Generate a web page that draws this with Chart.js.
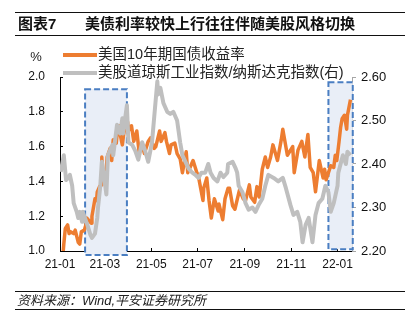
<!DOCTYPE html>
<html lang="zh">
<head>
  <meta charset="UTF-8">
  <title>美债利率与美股风格</title>
  <style>
    body { margin: 0; background: #fff; }
    .wrap {
      position: relative;
      width: 413px;
      height: 326px;
      background: #fff;
      font-family: "Liberation Sans", "Noto Sans CJK SC", sans-serif;
    }
    .wrap canvas { position: absolute; left: 0; top: 0; }
    .bar {
      position: absolute;
      left: 15px;
      width: 390px;
      border-top: 1px solid #111;
      border-bottom: 1px solid #111;
      color: #111;
    }
    .title-bar { top: 12px; height: 22px; font-size: 15px; font-weight: bold; line-height: 22px; }
    .title-bar span { position: absolute; top: 0; }
    .source-bar { top: 291px; height: 17px; font-size: 13px; font-style: italic; line-height: 17px; color: #222; }
    .source-bar span { position: absolute; left: 2px; top: 0; }
  </style>
</head>
<body>
<div class="wrap">
  <canvas id="myChart" width="413" height="326"></canvas>
  <div class="bar title-bar"><span style="left:3px">图表7</span><span style="left:70px">美债利率较快上行往往伴随美股风格切换</span></div>
  <div class="bar source-bar"><span>资料来源：Wind,平安证券研究所</span></div>
</div>

<script src="https://cdn.jsdelivr.net/npm/chart.js/dist/chart.umd.min.js"></script>
<script>
  // US 10Y treasury yield, %
  const yieldDates = [
    '2021-01-04','2021-01-06','2021-01-08','2021-01-11','2021-01-13','2021-01-15','2021-01-19','2021-01-21','2021-01-25','2021-01-27','2021-01-29',
    '2021-02-02','2021-02-04','2021-02-05','2021-02-09','2021-02-11','2021-02-12','2021-02-16','2021-02-18','2021-02-19','2021-02-22','2021-02-24','2021-02-25','2021-02-26',
    '2021-03-02','2021-03-04','2021-03-08','2021-03-10','2021-03-12','2021-03-16','2021-03-18','2021-03-19','2021-03-23','2021-03-24','2021-03-26','2021-03-31',
    '2021-04-01','2021-04-05','2021-04-08','2021-04-12','2021-04-15','2021-04-19','2021-04-22','2021-04-27','2021-04-30',
    '2021-05-05','2021-05-07','2021-05-12','2021-05-14','2021-05-19','2021-05-21','2021-05-25','2021-05-27',
    '2021-06-01','2021-06-04','2021-06-08','2021-06-11','2021-06-16','2021-06-18','2021-06-23','2021-06-25','2021-06-30',
    '2021-07-02','2021-07-08','2021-07-09','2021-07-13','2021-07-16','2021-07-19','2021-07-23','2021-07-28','2021-07-29',
    '2021-08-03','2021-08-06','2021-08-10','2021-08-12','2021-08-16','2021-08-19','2021-08-25','2021-08-30',
    '2021-09-02','2021-09-07','2021-09-09','2021-09-14','2021-09-17','2021-09-20','2021-09-24','2021-09-28',
    '2021-10-01','2021-10-05','2021-10-08','2021-10-14','2021-10-19','2021-10-21','2021-10-27',
    '2021-11-03','2021-11-05','2021-11-10','2021-11-15','2021-11-19','2021-11-23','2021-11-26','2021-11-30',
    '2021-12-03','2021-12-08','2021-12-13','2021-12-15','2021-12-17','2021-12-23','2021-12-27','2021-12-29','2021-12-31',
    '2022-01-03','2022-01-05','2022-01-07','2022-01-10','2022-01-13','2022-01-14','2022-01-18'
  ];
  const yieldValues = [
    0.93, 1.04, 1.13, 1.15, 1.10, 1.11, 1.10, 1.12, 1.05, 1.04, 1.11,
    1.12, 1.15, 1.19, 1.17, 1.16, 1.20, 1.30, 1.29, 1.34, 1.37, 1.38, 1.54, 1.44,
    1.42, 1.54, 1.59, 1.52, 1.64, 1.62, 1.71, 1.72, 1.63, 1.61, 1.68, 1.74,
    1.69, 1.72, 1.63, 1.69, 1.57, 1.61, 1.56, 1.63, 1.65,
    1.59, 1.60, 1.69, 1.63, 1.68, 1.63, 1.56, 1.61,
    1.62, 1.56, 1.53, 1.45, 1.57, 1.45, 1.50, 1.52, 1.45,
    1.43, 1.29, 1.36, 1.42, 1.29, 1.19, 1.30, 1.23, 1.27,
    1.18, 1.30, 1.36, 1.36, 1.26, 1.24, 1.35, 1.30,
    1.29, 1.38, 1.31, 1.28, 1.37, 1.31, 1.47, 1.54,
    1.48, 1.54, 1.61, 1.52, 1.64, 1.70, 1.55,
    1.60, 1.45, 1.58, 1.63, 1.54, 1.67, 1.48, 1.45,
    1.34, 1.52, 1.42, 1.47, 1.41, 1.49, 1.48, 1.55, 1.52,
    1.63, 1.71, 1.76, 1.78, 1.70, 1.78, 1.87
  ];

  // Dow Jones / Nasdaq ratio (right axis)
  const ratioDates = [
    '2021-01-02','2021-01-06','2021-01-09','2021-01-12','2021-01-14','2021-01-17','2021-01-19','2021-01-23','2021-01-25','2021-01-27','2021-01-30','2021-01-31',
    '2021-02-06','2021-02-10','2021-02-12','2021-02-16','2021-02-19','2021-02-20','2021-02-23','2021-02-25','2021-02-28',
    '2021-03-03','2021-03-05','2021-03-11','2021-03-12','2021-03-17','2021-03-21','2021-03-24','2021-03-25','2021-03-30',
    '2021-04-01','2021-04-06','2021-04-10','2021-04-14','2021-04-19','2021-04-23','2021-04-27',
    '2021-05-02','2021-05-06','2021-05-09','2021-05-10','2021-05-13','2021-05-17','2021-05-22','2021-05-26','2021-05-30',
    '2021-06-04','2021-06-08','2021-06-11','2021-06-15','2021-06-19','2021-06-24','2021-06-28',
    '2021-07-02','2021-07-06','2021-07-11','2021-07-15','2021-07-18','2021-07-22','2021-07-27','2021-07-31',
    '2021-08-04','2021-08-09','2021-08-10','2021-08-16','2021-08-20','2021-08-22','2021-08-24','2021-08-29',
    '2021-09-02','2021-09-06','2021-09-11','2021-09-15','2021-09-19','2021-09-24','2021-09-28',
    '2021-10-02','2021-10-09','2021-10-15','2021-10-21','2021-10-25','2021-10-31',
    '2021-11-04','2021-11-09','2021-11-13','2021-11-16','2021-11-20','2021-11-24','2021-11-29',
    '2021-12-03','2021-12-07','2021-12-12','2021-12-16','2021-12-20','2021-12-23','2021-12-27',
    '2022-01-01','2022-01-02','2022-01-08','2022-01-12','2022-01-14','2022-01-18'
  ];
  const ratioValues = [
    2.382, 2.42, 2.363, 2.368, 2.375, 2.35, 2.31, 2.29, 2.276, 2.29, 2.267, 2.29,
    2.26, 2.237, 2.23, 2.24, 2.276, 2.30, 2.35, 2.405, 2.37,
    2.33, 2.42, 2.444, 2.42, 2.49, 2.47, 2.505, 2.47, 2.535,
    2.45, 2.444, 2.43, 2.41, 2.45, 2.43, 2.405,
    2.45, 2.53, 2.59, 2.56, 2.575, 2.54, 2.52, 2.515, 2.52,
    2.50, 2.45, 2.42, 2.405, 2.39, 2.38, 2.375,
    2.368, 2.38, 2.38, 2.40, 2.38, 2.368, 2.36, 2.38,
    2.37, 2.38, 2.40, 2.405, 2.39, 2.38, 2.35, 2.335,
    2.31, 2.295, 2.30, 2.29, 2.305, 2.32, 2.35,
    2.375, 2.368, 2.36, 2.368, 2.345, 2.306,
    2.283, 2.29, 2.267, 2.22, 2.26, 2.276, 2.22,
    2.283, 2.31, 2.32, 2.35, 2.335, 2.29, 2.31,
    2.35, 2.38, 2.42, 2.40, 2.428, 2.42
  ];

  const tickDates = ['2021-01-01', '2021-03-01', '2021-05-01', '2021-07-01', '2021-09-01', '2021-11-01', '2022-01-01'];
  const tickLabels = ['21-01', '21-03', '21-05', '21-07', '21-09', '21-11', '22-01'];

  const seriesNames = ['美国10年期国债收益率', '美股道琼斯工业指数/纳斯达克指数(右)'];

  // shaded periods: start, end, and the yield range they span
  const boxStarts = ['2021-02-03', '2021-12-20'];
  const boxEnds = ['2021-03-30', '2022-01-21'];
  const boxTops = [1.93, 1.97];
  const boxBottoms = [0.977, 1.01];

  const ORANGE = '#ED7D31';
  const GREY = '#BFBFBF';
  const FONT = '"Liberation Sans", "Noto Sans CJK SC", sans-serif';

  const dayOf = d => (Date.parse(d) - Date.parse('2021-01-01')) / 86400000;
  const toPoints = (dates, values) => dates.map((d, i) => ({ x: dayOf(d), y: values[i] }));

  const boxPlugin = {
    id: 'boxes',
    beforeDatasetsDraw(chart) {
      const { ctx, scales: { x, y } } = chart;
      ctx.save();
      boxStarts.forEach((s, i) => {
        const x1 = x.getPixelForValue(dayOf(s));
        const x2 = x.getPixelForValue(dayOf(boxEnds[i]));
        const y1 = y.getPixelForValue(boxTops[i]);
        const y2 = y.getPixelForValue(boxBottoms[i]);
        ctx.fillStyle = '#E9EEF7';
        ctx.fillRect(x1, y1, x2 - x1, y2 - y1);
        ctx.setLineDash([6, 3]);
        ctx.lineWidth = 2;
        ctx.strokeStyle = '#4A7EC2';
        ctx.strokeRect(x1, y1, x2 - x1, y2 - y1);
      });
      ctx.restore();
    }
  };

  // legend and unit label at the top left
  const legendPlugin = {
    id: 'topLegend',
    afterDraw(chart) {
      const ctx = chart.ctx;
      ctx.save();
      ctx.font = '13px ' + FONT;
      ctx.fillStyle = '#222';
      ctx.textBaseline = 'middle';
      ctx.textAlign = 'center';
      ctx.fillText('%', 36, 57);
      ctx.textAlign = 'left';
      ctx.font = '14.5px ' + FONT;
      [ORANGE, GREY].forEach((c, i) => {
        const ly = 55 + i * 18;
        ctx.strokeStyle = c;
        ctx.lineWidth = 4;
        ctx.beginPath();
        ctx.moveTo(63, ly);
        ctx.lineTo(97, ly);
        ctx.stroke();
        ctx.fillStyle = '#222';
        ctx.fillText(seriesNames[i], 98, ly);
      });
      ctx.restore();
    }
  };

  const config = {
    type: 'line',
    data: {
      datasets: [{
        label: seriesNames[0],
        data: toPoints(yieldDates, yieldValues),
        borderColor: ORANGE,
        borderWidth: 3.5,
        yAxisID: 'y',
        order: 1
      }, {
        label: seriesNames[1],
        data: toPoints(ratioDates, ratioValues),
        borderColor: GREY,
        borderWidth: 4,
        yAxisID: 'y1',
        order: 0
      }]
    },
    options: {
      responsive: false,
      animation: false,
      layout: { padding: { left: 0, right: 0, top: 77, bottom: 55 } },
      elements: {
        point: { radius: 0 },
        line: { tension: 0, borderJoinStyle: 'round' }
      },
      scales: {
        x: {
          type: 'linear',
          min: 0,
          max: dayOf('2022-01-20'),
          afterBuildTicks: scale => { scale.ticks = tickDates.map(d => ({ value: dayOf(d) })); },
          afterFit: scale => { scale.height = 20; },
          ticks: {
            autoSkip: false,
            maxRotation: 0,
            padding: 9,
            color: '#111',
            font: { family: FONT, size: 12 },
            callback: (v, i) => tickLabels[i]
          },
          grid: { drawOnChartArea: false, tickLength: -3, color: '#000' },
          border: { color: '#000', width: 1 }
        },
        y: {
          position: 'left',
          min: 1.0,
          max: 2.0,
          afterFit: scale => { scale.width = 60; },
          ticks: {
            stepSize: 0.2,
            padding: 18,
            color: '#111',
            font: { family: FONT, size: 12 },
            callback: v => v.toFixed(1)
          },
          grid: { drawOnChartArea: false, tickLength: -3, color: '#000' },
          border: { color: '#000', width: 1 }
        },
        y1: {
          position: 'right',
          min: 2.2,
          max: 2.6,
          afterFit: scale => { scale.width = 61; },
          ticks: {
            stepSize: 0.1,
            padding: 5,
            color: '#111',
            font: { family: FONT, size: 13 },
            callback: v => v.toFixed(2)
          },
          grid: { drawOnChartArea: false, tickLength: 4, color: '#A6A6A6' },
          border: { color: '#A6A6A6', width: 1 }
        }
      },
      plugins: {
        legend: { display: false },
        tooltip: { enabled: false }
      }
    },
    plugins: [boxPlugin, legendPlugin]
  };

  const myChart = new Chart(document.getElementById('myChart'), config);
</script>
</body>
</html>
